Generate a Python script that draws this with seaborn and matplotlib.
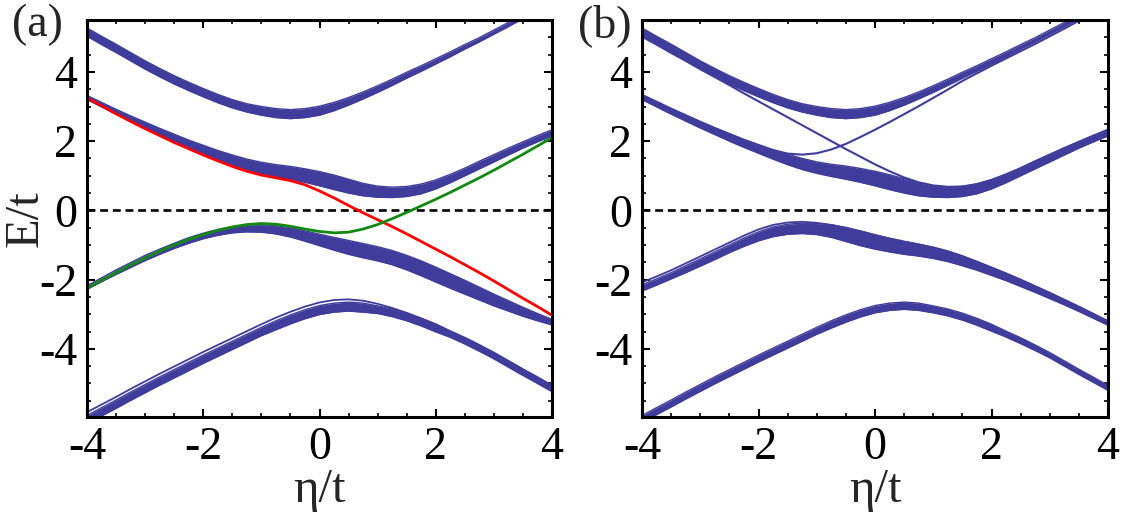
import matplotlib
matplotlib.use("Agg")
import matplotlib.pyplot as plt
import seaborn as sns
from matplotlib.ticker import MultipleLocator

ETA = [-4.0, -3.75, -3.5, -3.25, -3.0, -2.75, -2.5, -2.25, -2.0, -1.75, -1.5,
       -1.25, -1.0, -0.75, -0.5, -0.25, 0.0, 0.25, 0.5, 0.75, 1.0, 1.25,
       1.5, 1.75, 2.0, 2.25, 2.5, 2.75, 3.0, 3.25, 3.5, 3.75, 4.0]

# ---- panel (a) ----
a_band1_hi = [5.27, 5.03, 4.80, 4.56, 4.32, 4.10, 3.89, 3.70, 3.52, 3.35, 3.20,
              3.08, 3.00, 2.94, 2.91, 2.94, 3.01, 3.12, 3.26, 3.42, 3.60, 3.79,
              3.99, 4.18, 4.38, 4.58, 4.79, 4.99, 5.21, 5.43, 5.66, 5.88, 6.11]
a_band1_lo = [5.03, 4.79, 4.56, 4.32, 4.08, 3.86, 3.65, 3.46, 3.28, 3.11, 2.96,
              2.84, 2.75, 2.68, 2.65, 2.68, 2.75, 2.88, 3.04, 3.22, 3.41, 3.61,
              3.82, 4.02, 4.23, 4.44, 4.66, 4.87, 5.09, 5.31, 5.54, 5.76, 5.99]
a_band2_hi = [3.32, 3.12, 2.92, 2.73, 2.55, 2.37, 2.20, 2.03, 1.88, 1.73, 1.60,
              1.48, 1.39, 1.32, 1.27, 1.20, 1.12, 1.02, 0.90, 0.78, 0.70, 0.67,
              0.69, 0.76, 0.88, 1.04, 1.22, 1.42, 1.61, 1.80, 1.98, 2.16, 2.33]
a_band2_lo = [3.20, 2.99, 2.78, 2.58, 2.38, 2.19, 2.00, 1.82, 1.65, 1.48, 1.32,
              1.18, 1.07, 0.98, 0.90, 0.81, 0.71, 0.60, 0.50, 0.42, 0.38, 0.37,
              0.40, 0.48, 0.62, 0.80, 1.00, 1.20, 1.40, 1.60, 1.80, 1.98, 2.15]
a_band3_hi = [-2.18, -1.95, -1.72, -1.51, -1.30, -1.12, -0.95, -0.79, -0.66, -0.55, -0.47,
              -0.42, -0.41, -0.44, -0.50, -0.59, -0.69, -0.78, -0.87, -0.96, -1.05, -1.16,
              -1.30, -1.46, -1.64, -1.83, -2.02, -2.22, -2.42, -2.61, -2.80, -2.98, -3.15]
a_band3_lo = [-2.28, -2.06, -1.85, -1.65, -1.45, -1.27, -1.10, -0.95, -0.82, -0.72, -0.65,
              -0.62, -0.63, -0.68, -0.77, -0.89, -1.02, -1.15, -1.27, -1.37, -1.46, -1.57,
              -1.72, -1.89, -2.07, -2.25, -2.42, -2.59, -2.76, -2.91, -3.06, -3.19, -3.31]
a_band4_hi = [-5.93, -5.70, -5.48, -5.25, -5.03, -4.81, -4.60, -4.39, -4.18, -3.98, -3.78,
              -3.58, -3.38, -3.19, -3.02, -2.87, -2.75, -2.68, -2.65, -2.68, -2.76, -2.85,
              -2.97, -3.12, -3.29, -3.49, -3.68, -3.89, -4.11, -4.35, -4.59, -4.82, -5.06]
a_band4_lo = [-6.17, -5.94, -5.72, -5.49, -5.27, -5.05, -4.84, -4.63, -4.42, -4.22, -4.02,
              -3.82, -3.62, -3.45, -3.28, -3.13, -3.01, -2.94, -2.91, -2.94, -2.98, -3.07,
              -3.19, -3.34, -3.51, -3.67, -3.86, -4.07, -4.29, -4.53, -4.77, -5.00, -5.24]
a_edge4 = [-5.83, -5.61, -5.39, -5.16, -4.94, -4.72, -4.51, -4.30, -4.09, -3.89, -3.69,
           -3.49, -3.29, -3.10, -2.93, -2.78, -2.66, -2.59, -2.57, -2.61, -2.70, -2.82,
           -2.96, -3.12, -3.29, -3.49, -3.68, -3.89, -4.11, -4.35, -4.59, -4.82, -5.06]
a_red = [3.25, 3.02, 2.79, 2.57, 2.36, 2.16, 1.96, 1.78, 1.60, 1.43, 1.27,
         1.13, 1.02, 0.94, 0.86, 0.74, 0.56, 0.36, 0.14, -0.07, -0.27, -0.47,
         -0.68, -0.90, -1.12, -1.34, -1.57, -1.80, -2.04, -2.29, -2.54, -2.78, -3.03]
a_green = [-2.25, -2.02, -1.80, -1.58, -1.38, -1.18, -1.00, -0.84, -0.70, -0.58, -0.48,
           -0.41, -0.38, -0.40, -0.46, -0.54, -0.61, -0.65, -0.63, -0.54, -0.41, -0.24,
           -0.06, 0.13, 0.32, 0.52, 0.73, 0.94, 1.16, 1.39, 1.62, 1.86, 2.10]

# ---- panel (b) ----
b_band1_hi = a_band1_hi
b_band1_lo = a_band1_lo
b_band2_hi = [3.35, 3.15, 2.95, 2.76, 2.57, 2.39, 2.22, 2.05, 1.90, 1.75, 1.62,
              1.50, 1.40, 1.33, 1.28, 1.21, 1.13, 1.03, 0.91, 0.79, 0.71, 0.67,
              0.69, 0.76, 0.88, 1.04, 1.22, 1.42, 1.61, 1.80, 1.98, 2.16, 2.33]
b_band2_lo = a_band2_lo
b_band3_hi = [-2.15, -1.98, -1.80, -1.60, -1.40, -1.20, -1.00, -0.80, -0.62, -0.48, -0.40,
              -0.37, -0.38, -0.42, -0.50, -0.60, -0.71, -0.81, -0.90, -0.98, -1.07, -1.18,
              -1.32, -1.48, -1.65, -1.82, -2.00, -2.19, -2.38, -2.58, -2.78, -2.99, -3.20]
b_band3_lo = [-2.33, -2.16, -1.98, -1.80, -1.61, -1.42, -1.22, -1.04, -0.88, -0.76, -0.69,
              -0.67, -0.70, -0.78, -0.90, -1.02, -1.12, -1.20, -1.27, -1.32, -1.39, -1.48,
              -1.60, -1.73, -1.88, -2.03, -2.20, -2.37, -2.55, -2.73, -2.92, -3.12, -3.32]
b_edge3 = [-2.08, -1.91, -1.73, -1.53, -1.33, -1.13, -0.93, -0.73, -0.55, -0.42, -0.35,
           -0.33, -0.36, -0.42, -0.50, -0.60, -0.71, -0.81, -0.90, -0.98, -1.07, -1.18,
           -1.32, -1.48, -1.65, -1.82, -2.00, -2.19, -2.38, -2.58, -2.78, -2.99, -3.20]
b_band4_hi = a_band4_hi
b_band4_lo = [-6.13, -5.90, -5.68, -5.45, -5.23, -5.01, -4.80, -4.59, -4.38, -4.18, -3.98,
              -3.78, -3.58, -3.40, -3.23, -3.08, -2.96, -2.89, -2.86, -2.89, -2.96, -3.05,
              -3.17, -3.32, -3.49, -3.66, -3.85, -4.05, -4.26, -4.50, -4.74, -4.97, -5.20]
b_lineA = [5.02, 4.79, 4.55, 4.32, 4.08, 3.85, 3.62, 3.38, 3.15, 2.92, 2.69,
           2.46, 2.23, 2.00, 1.77, 1.55, 1.33, 1.13, 0.95, 0.81, 0.72, 0.68,
           0.69, 0.76, 0.88, 1.04, 1.22, 1.42, 1.61, 1.80, 1.98, 2.16, 2.33]
b_lineB = [3.32, 3.12, 2.92, 2.73, 2.55, 2.37, 2.20, 2.03, 1.88, 1.74, 1.64,
           1.61, 1.65, 1.76, 1.92, 2.12, 2.33, 2.55, 2.78, 3.01, 3.25, 3.49,
           3.74, 3.96, 4.18, 4.39, 4.60, 4.81, 5.03, 5.25, 5.48, 5.70, 5.93]

BLUE = "#3f3c9b"
RED = "#ff0000"
GREEN = "#128a12"
SERIF = ["Liberation Serif", "DejaVu Serif"]

sns.set_theme(style="ticks")
plt.rcParams["font.family"] = SERIF
plt.rcParams["font.serif"] = SERIF
plt.rcParams["axes.unicode_minus"] = False


def draw_band(ax, lo, hi):
    ax.fill_between(ETA, lo, hi, color=BLUE, lw=0)
    sns.lineplot(x=ETA, y=lo, ax=ax, color=BLUE, lw=1.0)
    sns.lineplot(x=ETA, y=hi, ax=ax, color=BLUE, lw=1.0)


def style_axes(ax):
    ax.set_xlim(-4, 4)
    ax.set_ylim(-5.97, 5.5)
    ax.axhline(0, color="black", lw=1.9, ls=(0, (3, 1.8)), zorder=1)
    ax.xaxis.set_major_locator(MultipleLocator(2))
    ax.xaxis.set_minor_locator(MultipleLocator(0.5))
    ax.yaxis.set_major_locator(MultipleLocator(2))
    ax.yaxis.set_minor_locator(MultipleLocator(0.5))
    ax.tick_params(which="both", direction="in", top=True, right=True,
                   colors="black", labelsize=33)
    ax.tick_params(which="major", length=6, width=1.5, pad=7)
    ax.tick_params(which="minor", length=3, width=1.2)
    for lab in ax.get_xticklabels() + ax.get_yticklabels():
        lab.set_fontfamily(SERIF)
    for sp in ax.spines.values():
        sp.set_linewidth(2.2)
        sp.set_color("black")
    ax.set_xlabel("η/t", fontsize=35, labelpad=-1, fontfamily=SERIF)
    ax.set_facecolor("white")


fig = plt.figure(figsize=(11.3, 5.12), dpi=100)
ax_a = fig.add_axes([87 / 1130, 1 - 417 / 512, 465 / 1130, 397 / 512])
ax_b = fig.add_axes([642 / 1130, 1 - 417 / 512, 466 / 1130, 397 / 512])

# panel (a)
for lo, hi in [(a_band1_lo, a_band1_hi), (a_band2_lo, a_band2_hi),
               (a_band3_lo, a_band3_hi), (a_band4_lo, a_band4_hi)]:
    draw_band(ax_a, lo, hi)
sns.lineplot(x=ETA, y=a_edge4, ax=ax_a, color=BLUE, lw=1.3)
sns.lineplot(x=ETA, y=a_red, ax=ax_a, color=RED, lw=2.0)
sns.lineplot(x=ETA, y=a_green, ax=ax_a, color=GREEN, lw=2.0)
style_axes(ax_a)
ax_a.set_ylabel("E/t", fontsize=35, fontfamily=SERIF)
ax_a.yaxis.set_label_coords(-0.084, 0.5)

# panel (b)
for lo, hi in [(b_band1_lo, b_band1_hi), (b_band2_lo, b_band2_hi),
               (b_band3_lo, b_band3_hi), (b_band4_lo, b_band4_hi)]:
    draw_band(ax_b, lo, hi)
sns.lineplot(x=ETA, y=b_edge3, ax=ax_b, color=BLUE, lw=1.3)
sns.lineplot(x=ETA, y=b_lineA, ax=ax_b, color=BLUE, lw=1.5)
sns.lineplot(x=ETA, y=b_lineB, ax=ax_b, color=BLUE, lw=1.5)
style_axes(ax_b)
ax_b.set_ylabel("")

fig.text(12 / 1130, 1 - 4 / 512, "(a)", fontsize=33, va="top", fontfamily=SERIF)
fig.text(578 / 1130, 1 - 4 / 512, "(b)", fontsize=33, va="top", fontfamily=SERIF)

fig.savefig("out.png", dpi=100, facecolor="white")
